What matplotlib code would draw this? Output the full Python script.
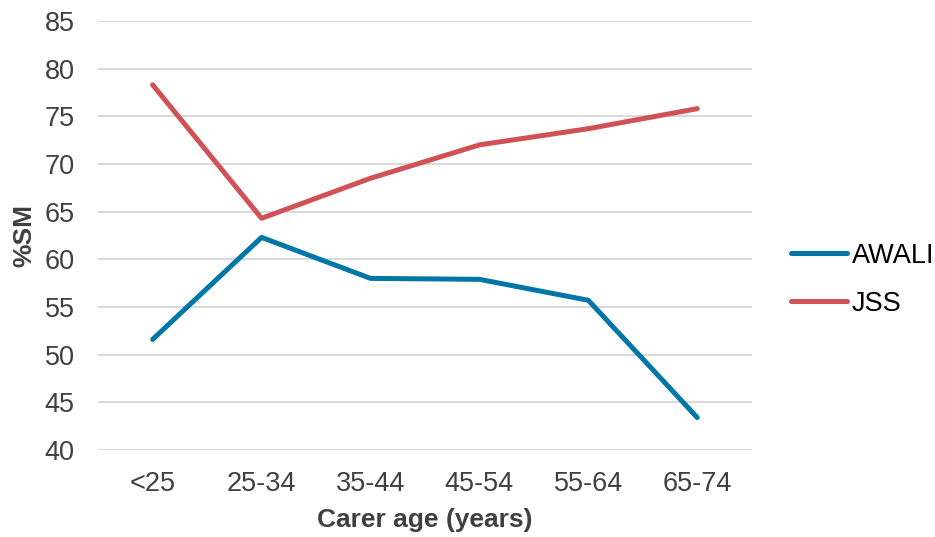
import matplotlib.pyplot as plt

plt.rcParams['font.family'] = ['Liberation Sans', 'DejaVu Sans']

# carer age groups and %SM for each tool
age_groups = ['<25', '25-34', '35-44', '45-54', '55-64', '65-74']
awali = [51.6, 62.3, 58.0, 57.9, 55.7, 43.4]
jss = [78.3, 64.3, 68.5, 72.0, 73.7, 75.8]

fig = plt.figure(figsize=(9.35, 5.37), dpi=100)
ax = fig.add_axes([0.105, 0.162, 0.699, 0.799])

x = range(len(age_groups))
ax.plot(x, awali, color='#0077A6', lw=3.6, solid_capstyle='round', label='AWALI')
ax.plot(x, jss, color='#D05257', lw=3.6, solid_capstyle='round', label='JSS')

ax.set_xlim(-0.5, len(age_groups) - 0.5)
ax.set_ylim(40, 85)
ax.set_yticks(range(40, 86, 5))
ax.set_xticks(list(x))
ax.set_xticklabels(age_groups)

ax.grid(axis='y', color='#D9D9D9', lw=1.4)
ax.set_axisbelow(True)
for s in ax.spines.values():
    s.set_visible(False)
ax.tick_params(axis='both', length=0, labelsize=19.5, labelcolor='#404040')
ax.tick_params(axis='y', pad=17)
ax.tick_params(axis='x', pad=15)

ax.set_xlabel('Carer age (years)', fontsize=19, fontweight='bold', color='#404040', labelpad=8)
ax.set_ylabel('%SM', fontsize=19, fontweight='bold', color='#404040', labelpad=6)

fig.legend(loc='center left', bbox_to_anchor=(0.82, 0.479), frameon=False,
           fontsize=19.5, handlelength=2.05, handletextpad=0.2, labelspacing=0.8)

fig.savefig('out.png', dpi=100)
